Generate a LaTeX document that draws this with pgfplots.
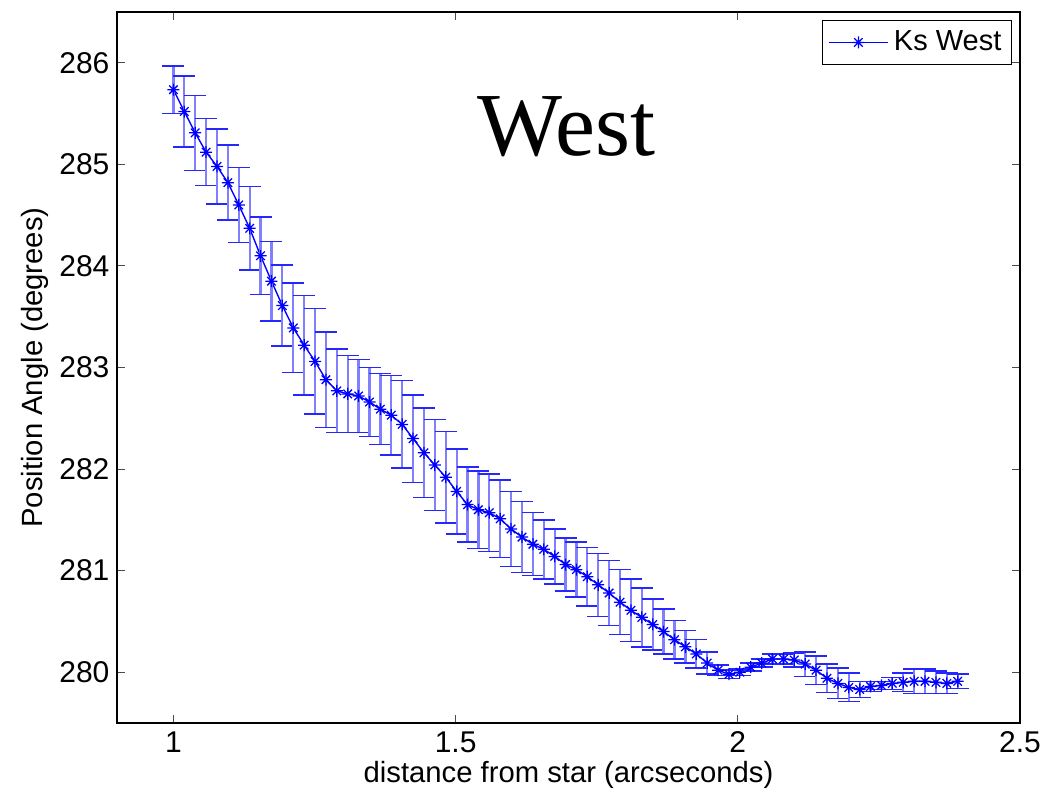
\documentclass[border=0pt]{standalone}
\usepackage{fontspec}
\setmainfont{Liberation Sans}
\newfontfamily\timesfont{Liberation Serif}
\usepackage{pgfplots}
\usepackage{pgfplotstable}
\pgfplotsset{compat=1.18}
\pgfdeclareplotmark{mstar}{%
  \pgfpathmoveto{\pgfqpoint{-\pgfplotmarksize}{0pt}}\pgfpathlineto{\pgfqpoint{\pgfplotmarksize}{0pt}}%
  \pgfpathmoveto{\pgfqpoint{0pt}{-\pgfplotmarksize}}\pgfpathlineto{\pgfqpoint{0pt}{\pgfplotmarksize}}%
  \pgfpathmoveto{\pgfqpoint{-0.707\pgfplotmarksize}{-0.707\pgfplotmarksize}}\pgfpathlineto{\pgfqpoint{0.707\pgfplotmarksize}{0.707\pgfplotmarksize}}%
  \pgfpathmoveto{\pgfqpoint{-0.707\pgfplotmarksize}{0.707\pgfplotmarksize}}\pgfpathlineto{\pgfqpoint{0.707\pgfplotmarksize}{-0.707\pgfplotmarksize}}%
  \pgfusepathqstroke}
\pgfplotstableread{
x y e
1.0000 285.735 0.235
1.0193 285.52 0.35
1.0386 285.31 0.37
1.0579 285.12 0.33
1.0772 284.98 0.37
1.0965 284.82 0.37
1.1158 284.60 0.37
1.1351 284.37 0.41
1.1544 284.10 0.38
1.1737 283.85 0.39
1.1930 283.61 0.40
1.2123 283.39 0.44
1.2316 283.22 0.49
1.2509 283.06 0.52
1.2702 282.88 0.47
1.2895 282.77 0.41
1.3088 282.74 0.38
1.3281 282.72 0.36
1.3474 282.66 0.34
1.3667 282.59 0.35
1.3860 282.53 0.39
1.4053 282.44 0.43
1.4246 282.30 0.43
1.4439 282.16 0.44
1.4632 282.04 0.45
1.4825 281.92 0.45
1.5018 281.78 0.42
1.5211 281.65 0.37
1.5404 281.60 0.38
1.5597 281.57 0.38
1.5790 281.51 0.38
1.5983 281.41 0.37
1.6176 281.33 0.35
1.6369 281.26 0.31
1.6562 281.21 0.29
1.6755 281.14 0.27
1.6948 281.06 0.26
1.7141 281.01 0.27
1.7334 280.94 0.29
1.7527 280.86 0.31
1.7720 280.78 0.32
1.7913 280.69 0.32
1.8106 280.61 0.31
1.8299 280.54 0.29
1.8492 280.47 0.25
1.8685 280.40 0.22
1.8878 280.32 0.19
1.9071 280.25 0.16
1.9264 280.18 0.14
1.9457 280.09 0.11
1.9650 280.02 0.05
1.9843 279.98 0.04
2.0036 280.00 0.03
2.0229 280.05 0.04
2.0422 280.09 0.04
2.0615 280.13 0.05
2.0808 280.13 0.05
2.1001 280.12 0.07
2.1194 280.08 0.12
2.1387 280.02 0.14
2.1580 279.94 0.14
2.1773 279.89 0.15
2.1966 279.85 0.14
2.2159 279.83 0.08
2.2352 279.86 0.05
2.2545 279.87 0.04
2.2738 279.89 0.06
2.2931 279.90 0.09
2.3124 279.91 0.12
2.3317 279.91 0.12
2.3510 279.90 0.11
2.3703 279.89 0.10
2.3896 279.91 0.07
}\westdata
\begin{document}
\begin{tikzpicture}
\useasboundingbox (-46.8pt,-28.4pt) rectangle (375.2pt,289.2pt);
\begin{axis}[
  at={(0,0)}, anchor=south west,
  scale only axis,
  width=361.2pt, height=284.4pt,
  xmin=0.9, xmax=2.5, ymin=279.5, ymax=286.5,
  xtick={1,1.5,2,2.5}, ytick={280,281,282,283,284,285,286},
  xticklabels={1,1.5,2,2.5},
  tick align=inside, tick pos=both,
  major tick length=3.2pt,
  axis line style={line width=0.5pt},
  every tick/.style={black!70, line width=0.4pt},
  tick label style={font=\fontsize{12}{14}\selectfont},
  yticklabel style={xshift=0.5pt},
  /pgf/number format/assume math mode=true,
  xlabel={distance from star (arcseconds)},
  ylabel={Position Angle (degrees)},
  every axis x label/.style={at={(axis description cs:0.5,-0.0731)}, anchor=center, font=\fontsize{11.7}{14}\selectfont},
  every axis y label/.style={at={(axis description cs:-0.0908,0.5)}, rotate=90, anchor=center, font=\fontsize{11.7}{14}\selectfont},
  legend style={at={(axis description cs:1,1)}, anchor=north east, xshift=-3.2pt, yshift=-3.2pt,
    font=\fontsize{11.6}{13}\selectfont, draw=black, line width=0.5pt, inner sep=2pt},
  legend cell align=left,
  legend image code/.code={\draw[mark repeat=2,mark phase=2] plot coordinates {(0cm,0cm) (0.42cm,0cm) (0.84cm,0cm)};},
]
\addplot[blue, line width=0.55pt, mark=mstar, mark size=2.4pt, mark options={line width=0.5pt},
  error bars/.cd, y dir=both, y explicit,
  error bar style={blue!50, line width=0.9pt},
  error mark options={rotate=90, blue!85, mark size=4.4pt, line width=0.6pt}]
  table[x=x, y=y, y error=e] {\westdata};
\addlegendentry{Ks West}
\node[anchor=base, font=\timesfont\fontsize{36}{40}\selectfont] at (axis cs:1.696,285.09) {West};
\end{axis}
\end{tikzpicture}
\end{document}
